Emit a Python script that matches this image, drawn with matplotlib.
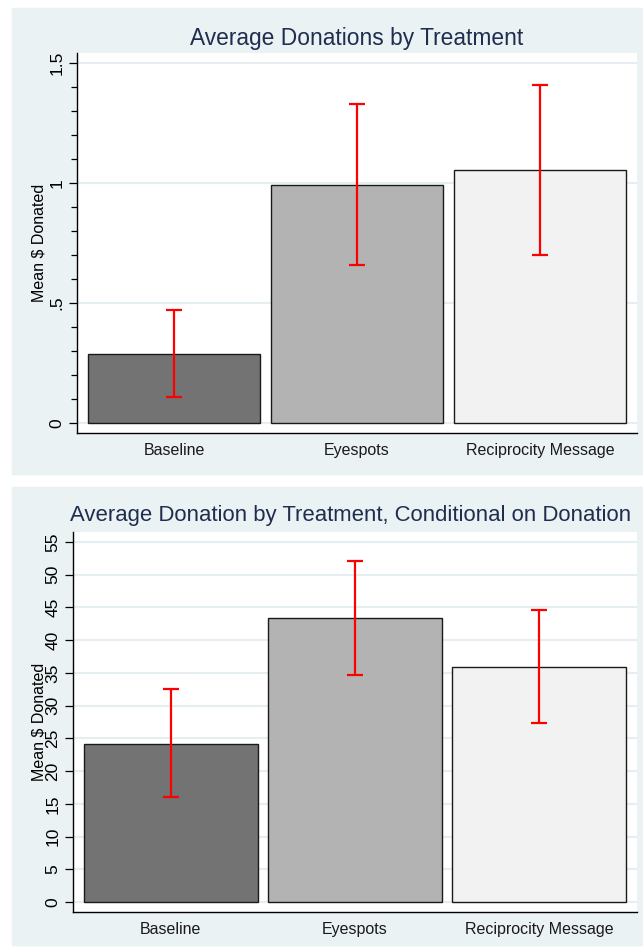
import matplotlib
matplotlib.use("Agg")
import matplotlib.pyplot as plt
from matplotlib.patches import Rectangle
import numpy as np

plt.rcParams['font.family'] = ['Liberation Sans', 'DejaVu Sans']

treatments = ['Baseline', 'Eyespots', 'Reciprocity Message']
bar_colors = ['#737373', '#b3b3b3', '#f2f2f2']

# all subjects
mean_all = [0.29, 0.99, 1.055]
ci_low_all = [0.109, 0.658, 0.70]
ci_high_all = [0.471, 1.329, 1.408]

# only subjects who donated
mean_donors = [24.2, 43.3, 35.9]
ci_low_donors = [16.1, 34.7, 27.4]
ci_high_donors = [32.6, 52.1, 44.6]

W, H = 643, 950
fig = plt.figure(figsize=(W / 100, H / 100), dpi=100)
panel_bg = '#eaf2f3'
grid_col = '#e6eef1'
title_col = '#1f2d4f'


def px_rect(x0, y0, x1, y1):
    return [x0 / W, (H - y1) / H, (x1 - x0) / W, (y1 - y0) / H]


fig.patches.append(Rectangle((12 / W, (H - 474) / H), 631 / W, 466 / H,
                             transform=fig.transFigure, color=panel_bg, zorder=-5))
fig.patches.append(Rectangle((12 / W, (H - 945) / H), 631 / W, 458 / H,
                             transform=fig.transFigure, color=panel_bg, zorder=-5))


def draw_panel(ax, means, lo, hi, ylim, major, minor=None, label_x=-0.07):
    x = np.arange(len(treatments))
    ax.set_axisbelow(True)
    ax.bar(x, means, width=0.945, color=bar_colors, edgecolor='#1a1a1a', linewidth=1.0, zorder=2)
    means = np.array(means)
    yerr = [means - np.array(lo), np.array(hi) - means]
    ax.errorbar(x, means, yerr=yerr, fmt='none', ecolor='red', elinewidth=1.6,
                capsize=5.5, capthick=1.6, zorder=3)
    ax.set_xlim(-0.53, 2.53)
    ax.set_ylim(*ylim)
    ax.set_xticks(x)
    ax.set_xticklabels(treatments, fontsize=11.5, color='#1a1a1a')
    ax.tick_params(axis='x', length=0, pad=7)
    ax.set_yticks(major)
    if minor is not None:
        ax.set_yticks(minor, minor=True)
        ax.tick_params(axis='y', which='minor', length=4, width=0.9, direction='out')
    ax.tick_params(axis='y', which='major', length=6, width=0.9, labelrotation=90,
                   labelsize=12.5, pad=3)
    for lab in ax.get_yticklabels():
        lab.set_va('center')
    ax.yaxis.grid(True, which='major', color=grid_col, linewidth=1.6)
    ax.spines['top'].set_visible(False)
    ax.spines['right'].set_visible(False)
    ax.spines['left'].set_linewidth(1.0)
    ax.spines['bottom'].set_linewidth(1.0)
    ax.set_ylabel('Mean $ Donated', fontsize=11.5, va='center')
    ax.yaxis.set_label_coords(label_x, 0.5)


ax1 = fig.add_axes(px_rect(77, 53, 637, 433))
draw_panel(ax1, mean_all, ci_low_all, ci_high_all, (-0.04, 1.54),
           [0, 0.5, 1, 1.5], np.arange(0, 1.51, 0.1), label_x=(39 - 77) / 560)
ax1.set_yticklabels(['0', '.5', '1', '1.5'])
fig.text(357 / W, (H - 38) / H, 'Average Donations by Treatment', ha='center', va='center',
         fontsize=16.4, color=title_col)

ax2 = fig.add_axes(px_rect(73, 532, 637, 912))
draw_panel(ax2, mean_donors, ci_low_donors, ci_high_donors, (-1.5, 56.5),
           np.arange(0, 56, 5), label_x=(39 - 73) / 564)
fig.text(70 / W, (H - 516) / H, 'Average Donation by Treatment, Conditional on Donation',
         ha='left', va='center', fontsize=15.9, color=title_col)

fig.savefig('out.png', dpi=100)
